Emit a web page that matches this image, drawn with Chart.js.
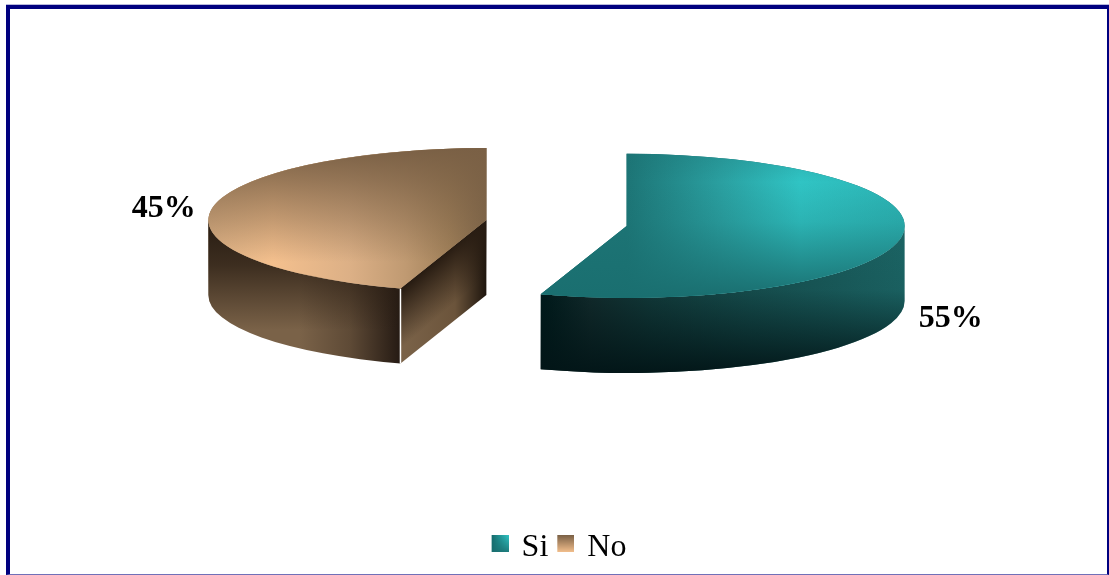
<!DOCTYPE html>
<html>
<head>
<meta charset="utf-8">
<title>Si / No</title>
<script src="https://cdn.jsdelivr.net/npm/chart.js@4"></script>
<style>
    html, body { margin: 0; padding: 0; background: #fff; overflow: hidden; }
    #wrap { position: relative; width: 1109px; height: 575px; }
    canvas { display: block; }
    /* navy frame around the plot */
    #frame { position: absolute; left: 6px; top: 5px; right: 0; bottom: 0; pointer-events: none;
             border-left: 4px solid #00007f; border-top: 4px solid #00007f; border-right: 2px solid #00007f; border-bottom: 1px solid #7070b8; }
    #frameTop { position: absolute; left: 6px; top: 4px; right: 0; height: 1px; background: #b8b8dc; }
</style>
</head>
<body>
<div id="wrap">
    <canvas id="pie" width="1109" height="575"></canvas>
    <div id="frameTop"></div>
    <div id="frame"></div>
</div>
<script>
const categories = ['Si', 'No'];
const percentages = [55, 45];

// --- Pie geometry: flattened disc with exploded slices ---
const PIE = { x: 556.5, y: 223, radius: 278, tilt: 0.259, depth: 75, explode: 71 };
const LABEL_SHIFT = [{ x: 49.5, y: 82 }, { x: -48, y: 0 }];

function linear(ctx, x0, y0, x1, y1, stops) {
    const g = ctx.createLinearGradient(x0, y0, x1, y1);
    stops.forEach(s => g.addColorStop(s[0], s[1]));
    return g;
}

// shading per slice: across (x), then a see-through layer going down (y)
const SHADES = [
    {
        base: '#1a6f70',
        top: {
            x: [[627, '#1d7576'], [720, '#2a9fa0'], [800, '#30c4c4'], [905, '#2cb4b4']],
            y: [[153, 'rgba(26,111,112,0.25)'], [182, 'rgba(26,111,112,0)'], [222, 'rgba(26,111,112,0.2)'], [296, 'rgba(26,111,112,1)']]
        },
        wall: {
            x: [[545, '#001a1b'], [590, '#122b2c'], [650, '#123a3a'], [750, '#164e4e'], [905, '#1b6464']],
            y: [[225, 'rgba(2,21,23,0)'], [290, 'rgba(2,21,23,0.05)'], [372, 'rgba(2,21,23,0.95)']]
        }
    },
    {
        base: '#7a6045',
        top: {
            x: [[208, '#e0b487'], [273, '#f4c08e'], [350, '#dcb086'], [405, '#c09a72'], [450, '#a08059'], [486, '#7f6649']],
            y: [[148, 'rgba(122,96,69,1)'], [180, 'rgba(122,96,69,0.75)'], [220, 'rgba(122,96,69,0.4)'], [262, 'rgba(122,96,69,0)']]
        },
        wall: {
            x: [[208, '#7a6248'], [300, '#7a6248'], [350, '#5e4a36'], [405, '#201610']],
            y: [[222, 'rgba(40,28,18,1)'], [265, 'rgba(40,28,18,0.75)'], [330, 'rgba(40,28,18,0)']]
        },
        cut: {
            x: [[405, '#7a6248'], [455, '#6b543b'], [486, '#1f160e']]
        }
    }
];

function horizontal(ctx, list) {
    const x0 = list[0][0], x1 = list[list.length - 1][0];
    return linear(ctx, x0, 0, x1, 0, list.map(s => [(s[0] - x0) / (x1 - x0), s[1]]));
}

function vertical(ctx, list) {
    const y0 = list[0][0], y1 = list[list.length - 1][0];
    return linear(ctx, 0, y0, 0, y1, list.map(s => [(s[0] - y0) / (y1 - y0), s[1]]));
}

function sliceCentre(el) {
    const mid = (el.startAngle + el.endAngle) / 2;
    return {
        x: PIE.x + Math.cos(mid) * PIE.explode,
        y: PIE.y + Math.sin(mid) * PIE.explode * PIE.tilt
    };
}

function topPath(ctx, el, c) {
    const ry = el.outerRadius * PIE.tilt;
    ctx.beginPath();
    ctx.moveTo(c.x, c.y);
    ctx.ellipse(c.x, c.y, el.outerRadius, ry, 0, el.startAngle, el.endAngle);
    ctx.closePath();
}

function paintWall(ctx, el, c, shade) {
    // only the front half of the rim can be seen
    const a0 = Math.max(el.startAngle, 0);
    const a1 = Math.min(el.endAngle, Math.PI);
    if (a1 <= a0) return;
    const ry = el.outerRadius * PIE.tilt;
    ctx.beginPath();
    ctx.ellipse(c.x, c.y, el.outerRadius, ry, 0, a0, a1);
    ctx.ellipse(c.x, c.y + PIE.depth, el.outerRadius, ry, 0, a1, a0, true);
    ctx.closePath();
    ctx.fillStyle = horizontal(ctx, shade.wall.x);
    ctx.fill();
    ctx.fillStyle = vertical(ctx, shade.wall.y);
    ctx.fill();
}

function paintCut(ctx, el, c, shade) {
    if (!shade.cut) return;
    const ex = c.x + Math.cos(el.startAngle) * el.outerRadius;
    const ey = c.y + Math.sin(el.startAngle) * el.outerRadius * PIE.tilt;
    ctx.beginPath();
    ctx.moveTo(c.x, c.y);
    ctx.lineTo(ex, ey);
    ctx.lineTo(ex, ey + PIE.depth);
    ctx.lineTo(c.x, c.y + PIE.depth);
    ctx.closePath();
    ctx.fillStyle = horizontal(ctx, shade.cut.x);
    ctx.fill();
    // dark band follows the slanted top edge
    const mx = (c.x + ex) / 2, my = (c.y + ey) / 2;
    ctx.fillStyle = linear(ctx, mx, my, mx + 38, my + 45, [[0, 'rgba(40,28,18,1)'], [0.75, 'rgba(40,28,18,0)']]);
    ctx.fill();
    ctx.strokeStyle = '#fff';
    ctx.lineWidth = 1.5;
    ctx.beginPath();
    ctx.moveTo(ex, ey);
    ctx.lineTo(ex, ey + PIE.depth);
    ctx.stroke();
}

const solidPie = {
    id: 'solidPie',
    beforeDatasetDraw(chart, args) {
        const ctx = chart.ctx;
        chart.getDatasetMeta(args.index).data.forEach((el, i) => {
            const c = sliceCentre(el);
            const shade = SHADES[i];
            ctx.save();
            paintWall(ctx, el, c, shade);
            paintCut(ctx, el, c, shade);

            // the arc element itself, squashed into the disc plane
            ctx.save();
            ctx.translate(c.x, c.y);
            ctx.scale(1, PIE.tilt);
            ctx.translate(-el.x, -el.y);
            el.draw(ctx);
            ctx.restore();

            topPath(ctx, el, c);
            ctx.clip();
            ctx.fillStyle = horizontal(ctx, shade.top.x);
            ctx.fillRect(0, 0, chart.width, chart.height);
            ctx.fillStyle = vertical(ctx, shade.top.y);
            ctx.fillRect(0, 0, chart.width, chart.height);
            ctx.restore();
        });
        return false;
    },
    afterDraw(chart) {
        const ctx = chart.ctx;
        ctx.save();
        ctx.font = 'bold 32px "Liberation Serif"';
        ctx.fillStyle = '#000';
        ctx.textAlign = 'center';
        ctx.textBaseline = 'middle';
        chart.getDatasetMeta(0).data.forEach((el, i) => {
            const c = sliceCentre(el);
            const mid = (el.startAngle + el.endAngle) / 2;
            const x = c.x + Math.cos(mid) * el.outerRadius + LABEL_SHIFT[i].x;
            const y = c.y + Math.sin(mid) * el.outerRadius * PIE.tilt + LABEL_SHIFT[i].y;
            ctx.fillText(percentages[i] + '%', x, y);
        });
        ctx.restore();
    }
};

// legend swatch, with clear margin so it sits where the text needs it
function swatch(i) {
    const cv = document.createElement('canvas');
    cv.width = 20;
    cv.height = 26;
    const c = cv.getContext('2d');
    if (i === 0) {
        c.fillStyle = linear(c, 3, 0, 20, 0, [[0, '#156a6b'], [1, '#30c4c4']]);
        c.fillRect(3, 0, 17, 17);
        c.fillStyle = linear(c, 0, 0, 0, 17, [[0, 'rgba(26,111,112,0)'], [1, 'rgba(26,111,112,0.85)']]);
        c.fillRect(3, 0, 17, 17);
    } else {
        c.fillStyle = linear(c, 0, 0, 0, 17, [[0, '#7a6045'], [1, '#f2be8c']]);
        c.fillRect(3, 0, 17, 17);
    }
    return cv;
}

new Chart(document.getElementById('pie'), {
    type: 'pie',
    data: {
        labels: categories,
        datasets: [{
            data: percentages,
            backgroundColor: SHADES.map(s => s.base),
            borderWidth: 0
        }]
    },
    options: {
        responsive: false,
        animation: false,
        radius: PIE.radius,
        layout: { padding: { left: 9, bottom: 1 } },
        plugins: {
            tooltip: { enabled: false },
            legend: {
                position: 'bottom',
                labels: {
                    usePointStyle: true,
                    boxWidth: 14,
                    padding: 9,
                    color: '#000',
                    font: { family: '"Liberation Serif"', size: 32 },
                    generateLabels: chart => categories.map((name, i) => ({
                        text: name,
                        pointStyle: swatch(i),
                        fontColor: '#000',
                        index: i,
                        lineWidth: 0
                    }))
                }
            }
        }
    },
    plugins: [solidPie]
});
</script>
</body>
</html>
